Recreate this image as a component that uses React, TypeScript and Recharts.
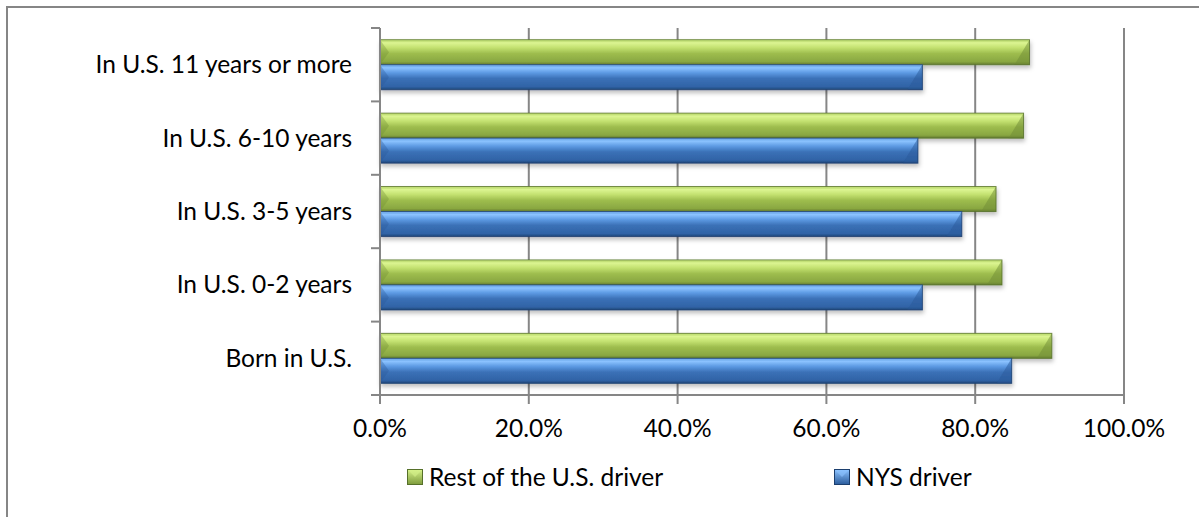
import React from 'react';
import { BarChart, Bar, XAxis, YAxis, CartesianGrid, Legend } from 'recharts';

const categories = [
  'In U.S. 11 years or more',
  'In U.S. 6-10 years',
  'In U.S. 3-5 years',
  'In U.S. 0-2 years',
  'Born in U.S.',
];
const restOfUS = [87.3, 86.5, 82.8, 83.6, 90.3];
const nysDriver = [72.9, 72.3, 78.2, 72.9, 84.9];
const xTicks = [0, 20, 40, 60, 80, 100];

const series = [
  { key: 'rest', name: 'Rest of the U.S. driver', grad: 'gradGreen', edge: '#56702a', dark: '#6f8c35', light: '#d6f28a' },
  { key: 'nys', name: 'NYS driver', grad: 'gradBlue', edge: '#1c3f6e', dark: '#2a5a99', light: '#8cc3ff' },
];

const data = categories.map((c, i) => ({ category: c, rest: restOfUS[i], nys: nysDriver[i] }));

const FONT = 'Lato, "Open Sans", sans-serif';
const FONT_SIZE = 24.5;
const GRID = '#868686';
const CHART_W = 1191;
const CHART_H = 509;
const PLOT_TOP = 20;
const PLOT_BOTTOM = 387;
const BAND = (PLOT_BOTTOM - PLOT_TOP) / categories.length;

function BevelBar(props: any) {
  const { x, y, width, height, s } = props;
  if (!width || width <= 0) return null;
  const b = Math.min(height * 0.6, width / 2);
  return (
    <g filter="url(#barShadow)">
      <rect x={x} y={y} width={width} height={height} fill={`url(#${s.grad})`} />
      {/* left bevel */}
      <polygon points={`${x},${y} ${x + b * 0.6},${y + height / 2} ${x},${y + height}`} fill={s.dark} opacity={0.35} />
      {/* right bevel */}
      <polygon points={`${x + width},${y} ${x + width},${y + height} ${x + width - b},${y + height}`} fill={s.dark} opacity={0.5} />
      <line x1={x} y1={y + 0.5} x2={x + width} y2={y + 0.5} stroke={s.light} strokeWidth={1} opacity={0.8} />
      <rect x={x} y={y} width={width} height={height} fill="none" stroke={s.edge} strokeWidth={1} opacity={0.8} />
    </g>
  );
}

function CategoryTick(props: any) {
  const { x, y, payload, index } = props;
  const axisX = x + 28;
  const top = y - BAND / 2;
  const bottom = y + BAND / 2;
  return (
    <g>
      <line x1={axisX - 9} y1={top} x2={axisX} y2={top} stroke={GRID} strokeWidth={2} />
      {index === categories.length - 1 && (
        <line x1={axisX - 9} y1={bottom} x2={axisX} y2={bottom} stroke={GRID} strokeWidth={2} />
      )}
      <text x={x} y={y} dy="0.35em" textAnchor="end" fill="#000" fontSize={FONT_SIZE} fontFamily={FONT}>
        {payload.value}
      </text>
    </g>
  );
}

function LegendBox() {
  const item = (s: typeof series[number], left: number) => (
    <div key={s.key} style={{ position: 'absolute', left, top: 0, display: 'flex', alignItems: 'center', height: 26 }}>
      <svg width={16} height={16} style={{ marginRight: 6 }}>
        <rect x={0.5} y={0.5} width={15} height={15} fill={`url(#${s.grad}Icon)`} stroke={s.edge} strokeWidth={1} />
        <polygon points="1,1 15,1 8,8" fill={s.light} opacity={0.6} />
      </svg>
      <span style={{ fontFamily: FONT, fontSize: FONT_SIZE, color: '#000', lineHeight: '26px' }}>{s.name}</span>
    </div>
  );
  return (
    <div style={{ position: 'relative', width: CHART_W, height: 26 }}>
      <svg width={0} height={0} style={{ position: 'absolute' }}>
        <defs>
          <linearGradient id="gradGreenIcon" x1="0" y1="0" x2="0" y2="1">
            <stop offset="0%" stopColor="#d6f28a" />
            <stop offset="100%" stopColor="#7d9b3c" />
          </linearGradient>
          <linearGradient id="gradBlueIcon" x1="0" y1="0" x2="0" y2="1">
            <stop offset="0%" stopColor="#8cc3ff" />
            <stop offset="100%" stopColor="#2b5c9c" />
          </linearGradient>
        </defs>
      </svg>
      {item(series[0], 399)}
      {item(series[1], 826)}
    </div>
  );
}

export default function App() {
  return (
    <div
      style={{
        position: 'absolute',
        left: 6,
        top: 6,
        width: 1193,
        height: 511,
        borderLeft: `2px solid ${GRID}`,
        borderTop: `2px solid ${GRID}`,
        background: '#fff',
      }}
    >
      <BarChart
        width={CHART_W}
        height={CHART_H}
        data={data}
        layout="vertical"
        margin={{ top: PLOT_TOP, right: 75, left: 0, bottom: 10 }}
        barCategoryGap="16%"
        barGap={0}
      >
        <defs>
          <linearGradient id="gradGreen" x1="0" y1="0" x2="0" y2="1">
            <stop offset="0%" stopColor="#a9cb5c" />
            <stop offset="12%" stopColor="#dcf592" />
            <stop offset="32%" stopColor="#c3e170" />
            <stop offset="55%" stopColor="#9ebd4e" />
            <stop offset="88%" stopColor="#89a741" />
            <stop offset="100%" stopColor="#62792f" />
          </linearGradient>
          <linearGradient id="gradBlue" x1="0" y1="0" x2="0" y2="1">
            <stop offset="0%" stopColor="#5a98dc" />
            <stop offset="12%" stopColor="#8cc3ff" />
            <stop offset="32%" stopColor="#5d9ae3" />
            <stop offset="55%" stopColor="#3b71b7" />
            <stop offset="88%" stopColor="#3063a6" />
            <stop offset="100%" stopColor="#1f4677" />
          </linearGradient>
          <filter id="barShadow" x="-5%" y="-20%" width="110%" height="160%">
            <feDropShadow dx="1" dy="3" stdDeviation="2" floodColor="#000" floodOpacity="0.25" />
          </filter>
        </defs>
        <CartesianGrid horizontal={false} stroke={GRID} strokeWidth={2} />
        <XAxis
          type="number"
          domain={[0, 100]}
          ticks={xTicks}
          interval={0}
          tickFormatter={(v: number) => `${v.toFixed(1)}%`}
          axisLine={{ stroke: GRID, strokeWidth: 2 }}
          tickLine={{ stroke: GRID, strokeWidth: 2 }}
          tickSize={9}
          tickMargin={16}
          height={72}
          tick={{ fill: '#000', fontSize: FONT_SIZE, fontFamily: FONT }}
        />
        <YAxis
          type="category"
          dataKey="category"
          width={372}
          axisLine={{ stroke: GRID, strokeWidth: 2 }}
          tickLine={false}
          tickSize={8}
          tickMargin={20}
          tick={<CategoryTick />}
          interval={0}
        />
        <Legend
          verticalAlign="bottom"
          height={40}
          wrapperStyle={{ top: 456, left: 0 }}
          content={() => <LegendBox />}
        />
        {series.map((s) => (
          <Bar
            key={s.key}
            dataKey={s.key}
            name={s.name}
            fill={s.dark}
            isAnimationActive={false}
            shape={(p: any) => <BevelBar {...p} s={s} />}
          />
        ))}
      </BarChart>
    </div>
  );
}
